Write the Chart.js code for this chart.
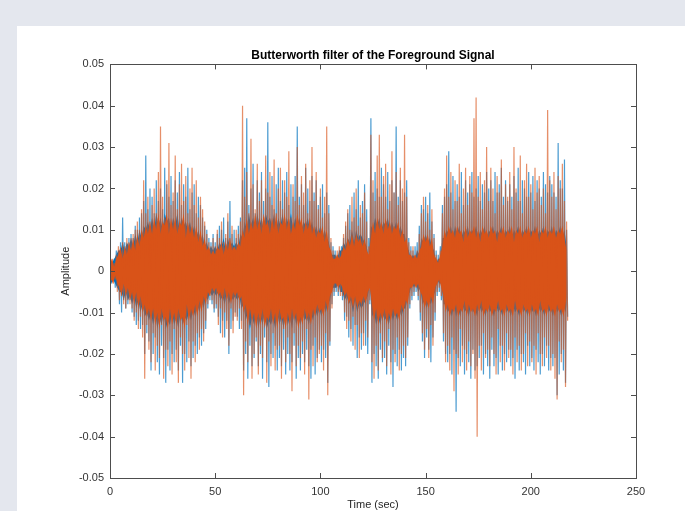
<!DOCTYPE html>
<html>
<head>
<meta charset="utf-8">
<script src="https://cdn.jsdelivr.net/npm/chart.js@4.4.1/dist/chart.umd.min.js"></script>
<style>
  html, body { margin: 0; padding: 0; width: 685px; height: 511px; overflow: hidden; background: #e4e7ee; }
  #fig { position: absolute; left: 17px; top: 26px; width: 668px; height: 500px; background: #fff; }
</style>
</head>
<body>
<div id="fig"><canvas id="signalChart" width="668" height="500"></canvas></div>
<script>
// peak amplitudes per second (in 1/1000), t = 0 .. 217 s
const orangeHi = [
  2,3,2,4,6,5,7,6,8,7,  8,9,10,12,10,15,22,14,18,12,  16,20,14,24,35,18,13,22,31,16,
  19,28,15,21,26,17,23,14,20,25,  16,22,13,18,15,12,9,7,6,8,  6,10,8,12,7,9,14,8,11,6,
  10,9,12,40,18,24,14,32,21,15,  26,17,22,13,28,19,24,16,27,14,  20,25,15,22,18,29,13,21,17,30,
  16,23,19,26,14,22,30,17,24,15,  20,13,18,35,14,8,5,4,5,6,  5,9,12,15,10,18,13,20,11,16,
  14,19,12,6,33,22,17,28,33,18,  23,26,15,21,29,19,24,16,25,20,  33,18,7,5,6,4,5,9,14,18,
  12,16,10,15,8,4,3,5,14,20,  28,18,24,15,22,17,26,14,20,25,  16,23,19,37,42,18,24,15,22,30,
  17,25,20,14,23,19,27,16,21,18,  24,15,30,20,17,28,14,22,26,18,  21,15,25,19,23,16,20,14,39,22,
  18,24,15,23,20,26,17,12
];
const orangeLo = [
  2,3,2,5,7,6,8,9,7,8,  9,12,10,14,11,16,26,13,19,22,  15,24,18,21,13,26,19,23,17,25,
  14,22,27,16,20,24,13,21,26,17,  22,15,19,14,17,12,8,6,7,9,  8,13,9,16,10,14,18,9,15,11,
  12,9,14,30,17,22,13,26,20,16,  25,18,21,12,27,17,23,15,24,19,  18,26,14,22,16,20,29,15,23,18,
  21,17,25,14,31,19,23,16,22,20,  18,24,15,30,17,9,5,4,5,6,  6,10,14,12,17,11,19,13,21,15,
  18,12,16,7,22,26,18,24,15,21,  17,23,14,25,19,22,16,24,20,18,  21,16,8,6,5,4,6,10,15,19,
  14,21,13,18,10,5,4,6,15,22,  18,24,16,29,20,25,14,22,19,24,  17,23,20,26,40,18,24,15,21,19,
  23,16,20,25,14,22,18,24,15,21,  19,25,16,22,18,24,20,15,23,17,  22,18,25,15,20,23,16,21,18,24,
  20,26,31,17,22,19,28,12
];
// dense part of the signal (half width, 1/1000)
const orangeCore = [
  2,3,1,3,4,6,3,6,4,7,  5,8,5,9,6,10,8,11,9,12,  9,13,10,14,9,12,11,14,9,13,
  10,13,9,12,11,14,8,12,9,11,  8,11,7,10,6,8,5,6,4,5,  4,6,5,7,4,7,5,8,5,6,
  5,7,6,10,8,13,9,12,10,14,  10,13,9,14,11,12,9,13,10,14,  9,12,11,14,10,13,9,12,10,14,
  11,13,9,12,10,13,9,11,8,10,  9,11,7,10,6,5,3,3,4,3,  4,6,5,8,6,9,6,9,7,8,
  6,8,5,4,8,12,9,13,10,12,  9,13,10,12,9,11,10,12,8,10,  7,8,4,4,3,4,3,5,6,9,
  7,9,6,8,4,3,2,4,6,10,  8,11,9,10,8,11,9,10,7,11,  8,10,9,11,8,10,7,11,9,10,
  8,11,9,10,7,10,9,11,8,10,  9,11,7,10,9,11,8,10,9,11,  8,10,9,11,7,10,9,11,8,10,
  9,11,8,10,9,11,8,5
];
const blueHi = [
  3,2,3,5,5,7,13,7,6,8,  9,8,11,10,13,14,17,28,15,20,  18,14,22,17,20,15,25,21,18,23,
  17,22,19,24,16,21,18,25,15,19,  21,14,18,16,13,11,10,8,7,9,  7,9,11,10,13,8,12,17,9,10,
  8,11,13,22,25,37,16,20,26,14,  22,19,24,17,20,36,18,23,15,21,  25,17,22,19,24,16,21,18,23,35,
  18,21,16,25,20,17,23,19,22,16,  18,21,14,19,16,7,6,5,4,5,  6,8,11,14,16,12,19,15,22,13,
  17,21,15,8,37,19,24,20,18,25,  21,18,24,17,22,19,35,18,22,17,  19,22,8,6,5,6,7,11,16,15,
  18,14,19,12,9,5,4,6,16,18,  21,29,19,23,17,21,18,24,16,22,  19,21,24,18,20,23,17,21,19,24,
  20,22,17,24,19,21,25,18,22,17,  21,18,23,19,25,17,22,20,18,24,  19,23,17,22,20,18,24,21,19,23,
  21,19,18,31,22,20,27,10
];
const blueLo = [
  3,2,4,4,8,10,7,9,8,7,  10,11,13,12,14,13,20,15,17,24,  20,16,22,25,18,21,27,19,24,20,
  22,19,24,18,27,20,22,17,23,21,  18,20,16,18,15,14,9,7,8,10,  9,11,15,12,16,12,20,14,12,10,
  11,14,12,24,20,26,18,23,21,17,  23,20,26,16,22,28,20,21,18,24,  21,23,19,25,20,24,22,18,26,21,
  24,20,22,19,23,26,18,25,21,19,  22,19,21,27,18,8,6,5,6,5,  7,12,11,16,14,18,13,21,16,19,
  15,18,20,8,27,20,23,26,19,22,  21,25,18,22,28,20,23,19,24,21,  23,18,9,7,6,5,7,12,17,21,
  16,19,22,16,12,6,5,7,17,20,  22,20,25,19,34,21,23,18,25,20,  22,26,19,24,23,21,18,25,20,23,
  26,19,23,21,25,18,24,20,22,19,  23,21,26,19,24,20,22,25,18,23,  21,24,19,22,25,20,23,18,24,21,
  23,21,30,25,20,24,27,11
];
const blueCore = [
  3,2,3,4,5,5,7,5,7,6,  8,6,9,7,10,8,11,10,12,10,  13,10,14,11,13,10,14,12,13,10,
  13,11,14,10,13,11,12,10,12,9,  11,8,10,7,9,6,7,5,6,5,  6,5,7,6,8,5,8,6,7,6,
  7,6,9,8,12,10,14,11,13,10,  14,11,13,10,14,12,13,11,14,10,  13,11,14,10,13,11,14,10,13,11,
  13,10,12,11,13,10,12,9,11,9,  11,8,10,8,7,4,4,4,3,5,  5,7,6,8,7,10,7,10,8,9,
  8,7,6,3,11,10,13,11,13,10,  12,11,13,10,12,10,12,9,11,9,  9,6,5,3,4,3,5,4,8,7,
  9,7,8,6,5,2,3,3,8,8,  10,9,11,8,11,9,11,8,10,9,  11,8,10,9,11,8,10,9,11,8,
  10,9,11,8,10,9,11,8,10,9,  11,8,10,9,11,8,10,9,11,8,  10,9,11,8,10,9,11,8,10,9,
  11,8,10,9,11,8,10,6
];

const xTickValues = [0, 50, 100, 150, 200, 250];
const yTickValues = [-0.05, -0.04, -0.03, -0.02, -0.01, 0, 0.01, 0.02, 0.03, 0.04, 0.05];

const orange = 'rgb(217, 83, 25)';
const blue = 'rgb(0, 114, 189)';
const axisColor = '#4d4d4d';
const font = 'Liberation Sans, Arial, Helvetica, sans-serif';

// positive peak at t, negative peak half a second later
function zigzag(hi, lo) {
  const pts = [];
  hi.forEach((h, i) => {
    pts.push({ x: i, y: h / 1000 });
    pts.push({ x: i + 0.5, y: -lo[i] / 1000 });
  });
  return pts;
}
function edge(core, sign, shift) {
  return core.map((c, i) => ({ x: i + shift, y: sign * c / 1000 }));
}

function spikes(data, rgba, order) {
  return { data, borderColor: rgba, borderWidth: 1.2, pointRadius: 0, fill: false, order };
}
function bandTop(core, color, order) {
  return { data: edge(core, 1, 0), borderWidth: 0, borderColor: color, backgroundColor: color,
    pointRadius: 0, fill: '+1', order };
}
function bandBottom(core, color, order) {
  return { data: edge(core, -1, 0.5), borderWidth: 0, borderColor: color, pointRadius: 0, fill: false, order };
}

// MATLAB style box with inward ticks
const boxPlugin = {
  id: 'box',
  afterDraw(chart) {
    const { ctx, chartArea: a, scales } = chart;
    ctx.save();
    ctx.strokeStyle = axisColor;
    ctx.lineWidth = 1;
    ctx.strokeRect(Math.round(a.left) + 0.5, Math.round(a.top) + 0.5,
      Math.round(a.right - a.left), Math.round(a.bottom - a.top));
    ctx.beginPath();
    xTickValues.forEach(v => {
      const x = Math.round(scales.x.getPixelForValue(v)) + 0.5;
      ctx.moveTo(x, a.bottom); ctx.lineTo(x, a.bottom - 5);
      ctx.moveTo(x, a.top); ctx.lineTo(x, a.top + 5);
    });
    yTickValues.forEach(v => {
      const y = Math.round(scales.y.getPixelForValue(v)) + 0.5;
      ctx.moveTo(a.left, y); ctx.lineTo(a.left + 5, y);
      ctx.moveTo(a.right, y); ctx.lineTo(a.right - 5, y);
    });
    ctx.stroke();
    ctx.restore();
  }
};

new Chart(document.getElementById('signalChart'), {
  type: 'line',
  data: {
    datasets: [
      spikes(zigzag(orangeHi, orangeLo), 'rgba(217, 83, 25, 0.65)', 0),
      bandTop(orangeCore, orange, 1),
      bandBottom(orangeCore, orange, 2),
      spikes(zigzag(blueHi, blueLo), 'rgba(0, 114, 189, 0.7)', 3),
      bandTop(blueCore, blue, 4),
      bandBottom(blueCore, blue, 5)
    ]
  },
  options: {
    responsive: false,
    animation: false,
    devicePixelRatio: 1,
    layout: { padding: { left: 0, right: 49, top: 0, bottom: 0 } },
    plugins: {
      legend: { display: false },
      tooltip: { enabled: false },
      filler: { propagate: false },
      title: {
        display: true,
        text: 'Butterworth filter of the Foreground Signal',
        fullSize: false,
        color: '#000',
        font: { family: font, size: 12, weight: 'bold' },
        padding: { top: 22, bottom: 2 }
      }
    },
    scales: {
      x: {
        type: 'linear',
        min: 0, max: 250,
        afterFit: s => { s.height = 48; },
        afterBuildTicks: s => { s.ticks = xTickValues.map(v => ({ value: v })); },
        grid: { display: false, drawTicks: false },
        border: { display: false },
        ticks: { color: '#333', padding: 7, maxRotation: 0, font: { family: font, size: 11 } },
        title: { display: true, text: 'Time (sec)', color: '#262626',
          font: { family: font, size: 11 }, padding: { top: 0, bottom: 14 } }
      },
      y: {
        min: -0.05, max: 0.05,
        afterFit: s => { s.width = 93; },
        afterBuildTicks: s => { s.ticks = yTickValues.map(v => ({ value: v })); },
        grid: { display: false, drawTicks: false },
        border: { display: false },
        ticks: { color: '#333', padding: 6, font: { family: font, size: 11 },
          callback: v => Math.abs(v) < 1e-9 ? '0' : v.toFixed(2) },
        title: { display: true, text: 'Amplitude', color: '#262626',
          font: { family: font, size: 11 }, padding: { top: 42, bottom: 0 } }
      }
    }
  },
  plugins: [boxPlugin]
});
</script>
</body>
</html>
